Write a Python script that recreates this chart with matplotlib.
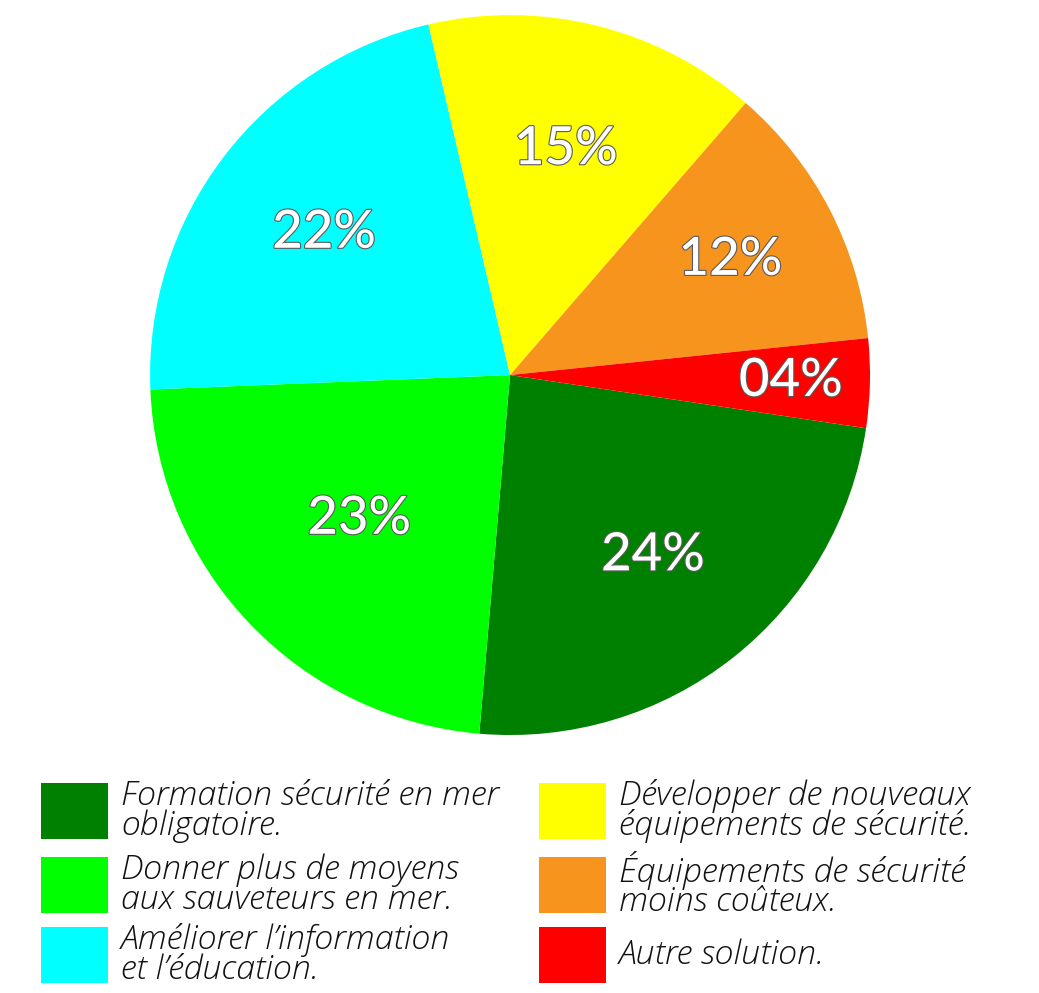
import matplotlib
matplotlib.use("Agg")
import matplotlib.pyplot as plt
import matplotlib.patheffects as pe
from matplotlib.patches import Rectangle
import numpy as np

# share of answers, clockwise from the red/dark green border
labels = [
    "Formation sécurité en mer\nobligatoire.",
    "Donner plus de moyens\naux sauveteurs en mer.",
    "Améliorer l’information\net l’éducation.",
    "Développer de nouveaux\néquipements de sécurité.",
    "Équipements de sécurité\nmoins coûteux.",
    "Autre solution.",
]
values = [24, 23, 22, 15, 12, 4]
pct_text = ["24%", "23%", "22%", "15%", "12%", "04%"]
colors = ["#008000", "#00ff00", "#00ffff", "#ffff00", "#f7941d", "#ff0000"]

# radial position of each percentage label (fraction of radius)
label_r = [0.64, 0.58, 0.65, 0.645, 0.69, 0.78]

fig = plt.figure(figsize=(10.39, 9.93), dpi=100)
ax = fig.add_axes([0.1444, 0.2598, 0.693, 0.725])

wedges, _ = ax.pie(values, colors=colors, startangle=-8.5, counterclock=False,
                   radius=1.0, wedgeprops=dict(linewidth=0))
ax.set_xlim(-1, 1)
ax.set_ylim(-1, 1)
ax.set_aspect("equal")
ax.axis("off")

outline = [pe.Stroke(linewidth=1.6, foreground="#5a5a5a"), pe.Normal()]
for w, txt, r in zip(wedges, pct_text, label_r):
    mid = np.deg2rad((w.theta1 + w.theta2) / 2)
    ax.text(r * np.cos(mid), r * np.sin(mid), txt, ha="center", va="center",
            fontsize=38, fontfamily="Lato", fontweight="medium", color="white",
            path_effects=outline)

# legend, two columns of three
W, H = 1039.0, 993.0
col_x = [41, 539]
row_y = [783, 857, 927]
box_w, box_h = 67, 56
for i, (lab, c) in enumerate(zip(labels, colors)):
    x0 = col_x[i // 3]
    y0 = row_y[i % 3]
    fig.patches.append(Rectangle((x0 / W, 1 - (y0 + box_h) / H), box_w / W, box_h / H,
                                 transform=fig.transFigure, facecolor=c, edgecolor="none"))
    fig.text((x0 + 80) / W, 1 - (y0 + box_h / 2) / H, lab, ha="left", va="center",
             fontsize=24.5, fontfamily="Open Sans", fontweight="light", style="italic",
             color="#111111", linespacing=0.85)

fig.savefig("out.png", dpi=100, facecolor="white")
